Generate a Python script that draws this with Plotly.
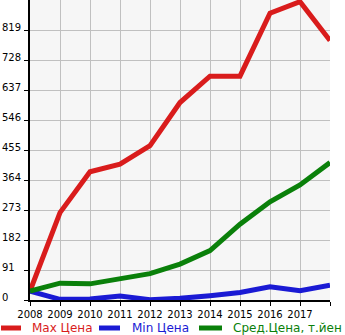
import plotly.graph_objects as go

# Price history per model year (thousand yen)
years = [2008, 2009, 2010, 2011, 2012, 2013, 2014, 2015, 2016, 2017, 2018]
max_price = [27, 265, 389, 412, 468, 599, 679, 679, 870, 905, 787]
min_price = [27, 2, 3, 12, 1, 5, 13, 23, 40, 28, 45]
avg_price = [27, 51, 49, 65, 80, 109, 150, 230, 298, 349, 417]

y_ticks = [0, 91, 182, 273, 364, 455, 546, 637, 728, 819]
x_tick_text = ["2008", "2009", "2010", "2011", "2012", "2013", "2014", "2015", "2016", "2017", ""]

series = [
    ("Max Цена", max_price, "#d91c1c"),
    ("Min Цена", min_price, "#1a1ad4"),
    ("Сред.Цена, т.йен", avg_price, "#0a800a"),
]

W, H = 345, 335
ML, MR, MT, MB = 30, 15, 0, 35
PW, PH = W - ML - MR, H - MT - MB
FONT = "DejaVu Sans"

fig = go.Figure()
for name, vals, color in series:
    fig.add_trace(go.Scatter(
        x=years, y=vals, mode="lines", name=name,
        line=dict(color=color, width=5), showlegend=False,
    ))

fig.update_xaxes(
    range=[2008, 2018], tickvals=years, ticktext=x_tick_text,
    showgrid=True, gridcolor="#c0c0c0", gridwidth=1,
    showline=True, linecolor="black", linewidth=2,
    ticks="outside", ticklen=4, tickcolor="black", tickwidth=1,
    tickfont=dict(family=FONT, size=10, color="black"),
    zeroline=False, fixedrange=True,
)
fig.update_yaxes(
    range=[0, 910], tickvals=y_ticks, showticklabels=False,
    showgrid=True, gridcolor="#c0c0c0", gridwidth=1,
    showline=True, linecolor="black", linewidth=2,
    ticks="outside", ticklen=4, tickcolor="black", tickwidth=1,
    zeroline=False, fixedrange=True,
)

# Left-aligned value labels for the y axis
annotations = []
for v in y_ticks:
    annotations.append(dict(
        x=-ML / PW, xref="paper", y=v, yref="y",
        text=str(v), showarrow=False, xanchor="left", yanchor="middle",
        yshift=3, font=dict(family=FONT, size=10, color="black"),
    ))

# Legend row below the chart
shapes = []
legend_items = [(1, 21, 30), (99, 120, 130), (199, 222, 231)]
leg_y = -(328 - PH) / PH
for (x0, x1, tx), (name, _, color) in zip(legend_items, series):
    shapes.append(dict(
        type="line", xref="paper", yref="paper",
        x0=(x0 - ML) / PW, x1=(x1 - ML) / PW, y0=leg_y, y1=leg_y,
        line=dict(color=color, width=5),
    ))
    annotations.append(dict(
        x=(tx - ML) / PW, xref="paper", y=leg_y, yref="paper",
        text=name, showarrow=False, xanchor="left", yanchor="middle",
        font=dict(family=FONT, size=12, color=color),
    ))

fig.update_layout(
    width=W, height=H,
    margin=dict(l=ML, r=MR, t=MT, b=MB),
    paper_bgcolor="white", plot_bgcolor="#f6f6f6",
    annotations=annotations, shapes=shapes,
    showlegend=False,
)

fig.write_html("out.html", config={"displayModeBar": False})
